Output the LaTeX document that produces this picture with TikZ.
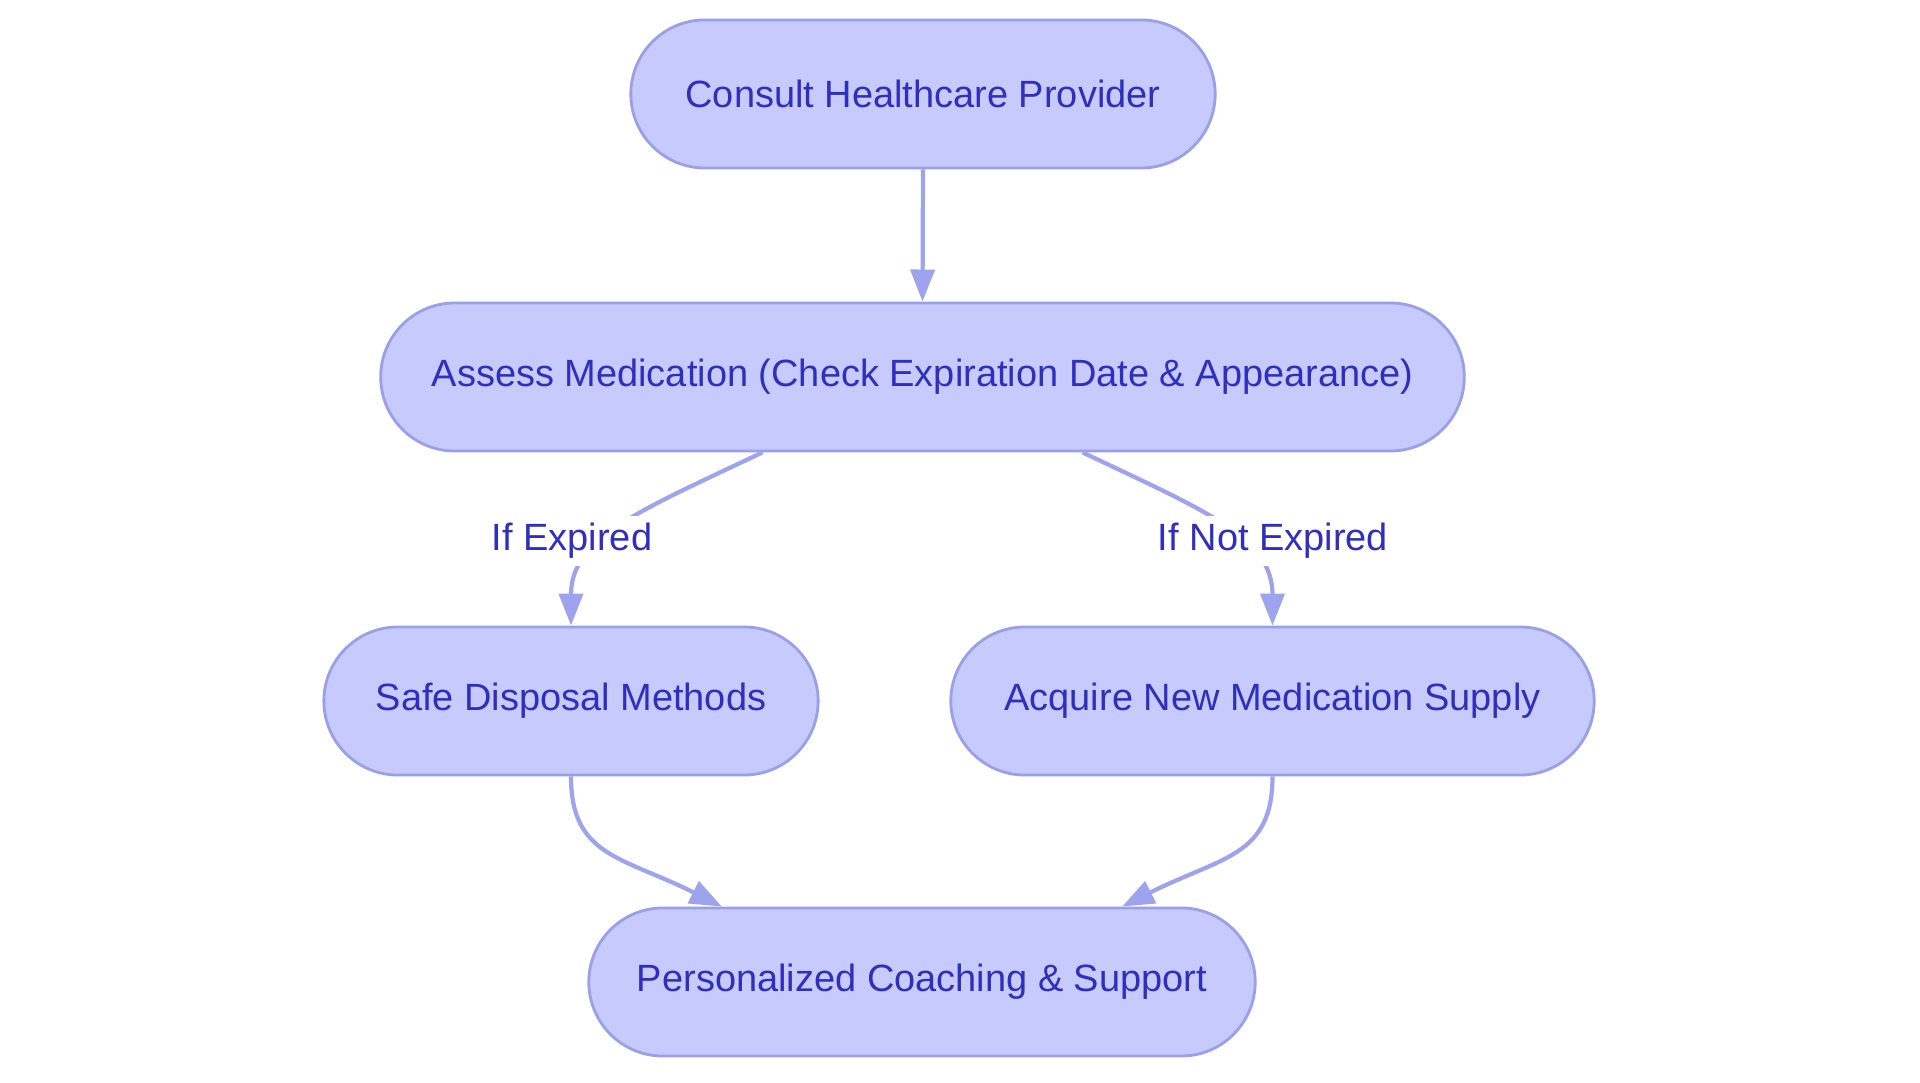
\documentclass[tikz,border=0pt]{standalone}
\usepackage{fontspec}
\setmainfont{Liberation Sans}
\usetikzlibrary{arrows.meta}
\definecolor{boxfill}{HTML}{C7CAFD}
\definecolor{boxline}{HTML}{9A9FEA}
\definecolor{boxtext}{HTML}{2F2FBF}
\definecolor{flowline}{HTML}{9EA3EE}
\begin{document}
\begin{tikzpicture}[x=0.01cm,y=-0.01cm,
        stage/.style={draw=boxline,fill=boxfill,line width=0.8pt,rounded corners=0.74cm,minimum height=1.48cm,text=boxtext,font=\fontsize{10.8}{13}\selectfont,inner sep=0pt},
        flow/.style={draw=flowline,line width=1.2pt,-{Triangle[length=0.32cm,width=0.24cm]}},
        cond/.style={fill=white,text=boxtext,font=\fontsize{10.8}{13}\selectfont,inner sep=2pt}]
        \useasboundingbox (0,0) rectangle (1920,1083);
        \node [stage,minimum width=5.84cm] (consult) at (923,94) {Consult Healthcare Provider};
        \node [stage,minimum width=10.83cm] (assess) at (922.5,377) {Assess Medication (Check Expiration Date \& Appearance)};
        \node [stage,minimum width=4.94cm] (safe) at (571,701) {Safe Disposal Methods};
        \node [stage,minimum width=6.43cm] (acquire) at (1272.5,701) {Acquire New Medication Supply};
        \node [stage,minimum width=6.66cm] (coaching) at (922,982) {Personalized Coaching \& Support};
        \draw [flow] (consult.south) -- (assess.north);
        \draw [flow] ([xshift=-1.6cm]assess.south) .. controls +(-122,58) and +(0,-88) .. (safe.north);
        \draw [flow] ([xshift=1.6cm]assess.south) .. controls +(122,58) and +(0,-88) .. (acquire.north);
        \draw [flow] (safe.south) .. controls +(0,80) and +(-100,-50) .. ([xshift=-2cm]coaching.north);
        \draw [flow] (acquire.south) .. controls +(0,80) and +(100,-50) .. ([xshift=2cm]coaching.north);
        \node [cond] (expired) at (572,541) {If Expired};
        \node [cond] (notexpired) at (1273,541) {If Not Expired};
    \end{tikzpicture}
\end{document}
